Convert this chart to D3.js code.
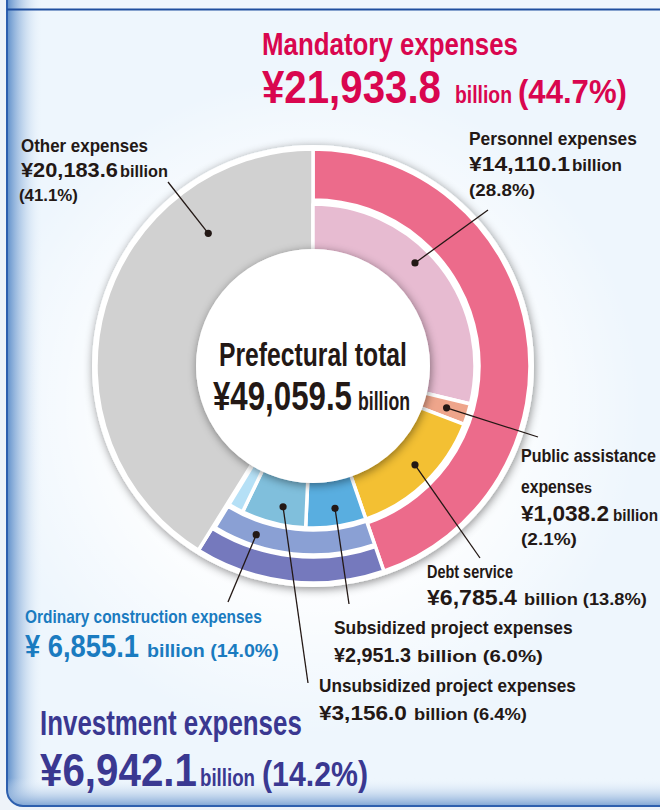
<!DOCTYPE html>
<meta charset="utf-8">
<html>
<head>
<style>
  body { margin: 0; background: #ffffff; }
  svg text { font-family: "Liberation Sans", Arial, sans-serif; font-weight: bold; }
</style>
</head>
<body>
<svg width="660" height="810"></svg>
<script src="https://d3js.org/d3.v7.min.js"></script>
<script>

// prefectural expenditure, billions of yen
var totalValue = 49059.5;

var groupNames  = ["Mandatory expenses", "Investment expenses", "Other expenses"];
var groupValues = [21933.8, 6942.1, 20183.6];
var groupShares = [44.7, 14.2, 41.1];
var groupColors = ["#ec6b8b", "#7579bd", "#d1d1d1"];

var mandatoryNames  = ["Personnel expenses", "Public assistance expenses", "Debt service"];
var mandatoryValues = [14110.1, 1038.2, 6785.4];
var mandatoryShares = [28.8, 2.1, 13.8];
var mandatoryColors = ["#e7bbd1", "#eea58b", "#f3c033"];

var constructionName  = "Ordinary construction expenses";
var constructionValue = 6855.1;
var constructionShare = 14.0;
var constructionColor = "#8aa0d4";

var projectNames  = ["Subsidized project expenses", "Unsubsidized project expenses", "Other ordinary construction"];
var projectValues = [2951.3, 3156.0, 747.8];
var projectShares = [6.0, 6.4, 1.5];
var projectColors = ["#59aee0", "#80bfdc", "#b5e0f6"];

var ink = "#231815", red = "#d9064f", navy = "#3a3891", blue = "#1a7bc0";

var svg = d3.select("svg"),
    cx = 313, cy = 366;

var defs = svg.append("defs");

var bg = defs.append("linearGradient").attr("id", "leftEdge");
bg.append("stop").attr("offset", "0%").attr("stop-color", "#5f8fca");
bg.append("stop").attr("offset", "100%").attr("stop-color", "#eef6fd").attr("stop-opacity", 0);

var bb = defs.append("linearGradient").attr("id", "bottomEdge")
    .attr("x1", 0).attr("y1", 0).attr("x2", 0).attr("y2", 1);
bb.append("stop").attr("offset", "0%").attr("stop-color", "#eef6fd").attr("stop-opacity", 0);
bb.append("stop").attr("offset", "100%").attr("stop-color", "#7ea4d4");

var glow = defs.append("radialGradient").attr("id", "glow");
glow.append("stop").attr("offset", "60%").attr("stop-color", "#ffffff");
glow.append("stop").attr("offset", "100%").attr("stop-color", "#ffffff").attr("stop-opacity", 0);

var sh = defs.append("filter").attr("id", "shadow")
    .attr("x", "-20%").attr("y", "-20%").attr("width", "140%").attr("height", "140%");
sh.append("feDropShadow").attr("dx", 1).attr("dy", 2).attr("stdDeviation", 5)
    .attr("flood-color", "#000").attr("flood-opacity", 0.45);

defs.append("clipPath").attr("id", "panelClip")
  .append("rect").attr("x", 7).attr("y", -40).attr("width", 700).attr("height", 846).attr("rx", 16);

// frame
svg.append("rect").attr("width", 660).attr("height", 810).attr("fill", "#eef3f9");
var panel = svg.append("g").attr("clip-path", "url(#panelClip)");
panel.append("rect").attr("x", 7).attr("y", -40).attr("width", 700).attr("height", 846).attr("fill", "#eef6fd");
panel.append("circle").attr("cx", cx).attr("cy", cy + 40).attr("r", 330).attr("fill", "url(#glow)").attr("opacity", 0.8);
panel.append("rect").attr("x", 7).attr("y", -40).attr("width", 36).attr("height", 846).attr("fill", "url(#leftEdge)");
panel.append("rect").attr("x", 7).attr("y", 778).attr("width", 700).attr("height", 28).attr("fill", "url(#bottomEdge)");
svg.append("rect").attr("x", 7).attr("y", -40).attr("width", 700).attr("height", 846).attr("rx", 16)
    .attr("fill", "none").attr("stroke", "#2d5fae").attr("stroke-width", 2);
svg.append("line").attr("x1", 7).attr("x2", 660).attr("y1", 9.5).attr("y2", 9.5)
    .attr("stroke", "#1f4f9f").attr("stroke-width", 2);

// angles
var angle = d3.scaleLinear().domain([0, totalValue]).range([0, 2 * Math.PI]);

function stack(values, start) {
  var acc = start, out = [];
  values.forEach(function (v, i) {
    out.push({ i: i, value: v, startAngle: angle(acc), endAngle: angle(acc + v) });
    acc += v;
  });
  return out;
}

var R0 = 117, R1 = 162, R2 = 166, R3 = 217;

var chart = svg.append("g").attr("transform", "translate(" + cx + "," + cy + ")");

chart.append("circle").attr("r", R3 + 4).attr("fill", "#fff").attr("filter", "url(#shadow)");

var groupArcs = stack(groupValues, 0);
var innerMandatory = stack(mandatoryValues, 0);
var middleConstruction = stack([constructionValue], groupValues[0]);
var innerProjects = stack(projectValues, groupValues[0]);

function ring(data, r0, r1, colors) {
  var arc = d3.arc().innerRadius(r0).outerRadius(r1);
  chart.append("g").selectAll("path").data(data).join("path")
      .attr("d", arc)
      .attr("fill", function (d) { return colors[d.i]; })
      .attr("stroke", "#fff").attr("stroke-width", 3.5).attr("stroke-linejoin", "round");
}

ring([groupArcs[0]], R2, R3, groupColors);
ring([groupArcs[1]], 191, R3, groupColors);
ring([groupArcs[2]], R0 - 2, R3, groupColors);
ring(innerMandatory, R0 - 2, R1, mandatoryColors);
ring(middleConstruction, 164, 189, [constructionColor]);
ring(innerProjects, R0 - 2, R1, projectColors);

chart.append("circle").attr("r", R0).attr("fill", "#fff").attr("filter", "url(#shadow)");

// leader lines: [angle (deg), radius, end x, end y]
var leaders = [
  [321.7, 169, 168, 182],
  [44.7, 145, 488, 210],
  [107.4, 140, 538, 437],
  [134.1, 142, 480, 558],
  [171.2, 144, 349, 604],
  [192.0, 144, 308, 683],
  [198.6, 178, 228, 602]
];
leaders.forEach(function (l) {
  var a = l[0] * Math.PI / 180,
      x = cx + l[1] * Math.sin(a), y = cy - l[1] * Math.cos(a);
  svg.append("line").attr("x1", x).attr("y1", y).attr("x2", l[2]).attr("y2", l[3])
      .attr("stroke", ink).attr("stroke-width", 1.3);
  svg.append("circle").attr("cx", x).attr("cy", y).attr("r", 3.6).attr("fill", ink);
});

// text
var fmt = d3.format(",.1f");
function yen(v) { return "\u00a5" + fmt(v); }
function pct(v) { return "(" + v.toFixed(1) + "%)"; }

function put(str, x, y, size, w, color, anchor) {
  var t = svg.append("text").attr("x", x).attr("y", y).attr("font-size", size)
      .attr("fill", color || ink).attr("text-anchor", anchor || "start").text(str);
  if (w) {
    var bw = t.node().getComputedTextLength();
    t.attr("transform", "translate(" + x + ",0) scale(" + (w / bw) + ",1) translate(" + (-x) + ",0)");
  }
  return t;
}

// mandatory header
put(groupNames[0], 262, 55, 32, 256, red);
put(yen(groupValues[0]), 262, 103, 46, 179, red);
put("billion", 455, 103, 24, 57, red);
put(pct(groupShares[0]), 518, 103, 34, 109, red);

// other
put(groupNames[2], 21, 152, 18, 127);
put(yen(groupValues[2]), 21, 177, 21, 97);
put("billion", 120, 177, 17, 48);
put(pct(groupShares[2]), 19, 201, 17, 59);

// personnel
put(mandatoryNames[0], 469, 145, 18, 168);
put(yen(mandatoryValues[0]), 469, 171, 21, 101);
put("billion", 572, 171, 17, 50);
put(pct(mandatoryShares[0]), 469, 196, 17, 66);

// centre
put("Prefectural total", cx, 366, 34, 188, ink, "middle");
put(yen(totalValue), 213, 410, 40, 139);
put("billion", 358, 410, 25, 52);

// public assistance
put("Public assistance", 521, 462, 18, 135);
put("expense", 521, 493, 18, 63);
put("s", 584, 493, 14, 8);
put(yen(mandatoryValues[1]), 521, 521, 22, 88);
put("billion", 613, 521, 17, 45);
put(pct(mandatoryShares[1]), 521, 545, 17, 56);

// debt service
put(mandatoryNames[2], 427, 578, 18, 86);
put(yen(mandatoryValues[2]), 427, 605, 22, 90);
put("billion " + pct(mandatoryShares[2]), 524, 605, 17, 123);

// subsidized
put(projectNames[0], 334, 634, 18, 239);
put(yen(projectValues[0]), 334, 662, 21, 77);
put("billion " + pct(projectShares[0]), 417, 662, 17, 126);

// unsubsidized
put(projectNames[1], 319, 692, 18, 257);
put(yen(projectValues[1]), 319, 720, 21, 88);
put("billion " + pct(projectShares[1]), 414, 720, 17, 113);

// ordinary construction
put(constructionName, 25, 623, 19, 237, blue);
put("\u00a5 " + fmt(constructionValue), 25, 657, 31, 114, blue);
put("billion " + pct(constructionShare), 147, 657, 19, 132, blue);

// investment header
put(groupNames[1], 40, 735, 35, 262, navy);
put(yen(groupValues[1]), 40, 786, 47, 157, navy);
put("billion", 200, 786, 24, 55, navy);
put(pct(groupShares[1]), 262, 786, 35, 106, navy);

</script>
</body>
</html>
